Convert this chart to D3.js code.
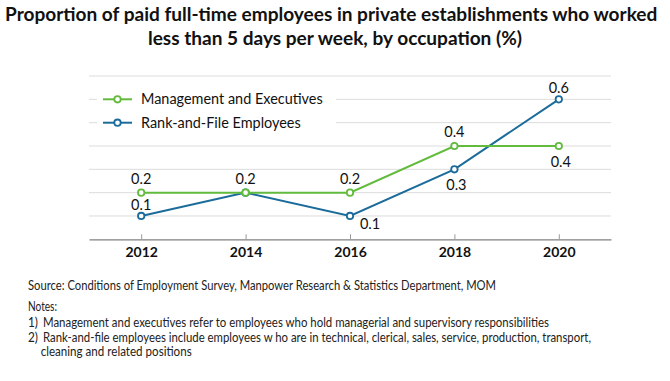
<!DOCTYPE html>
<meta charset="utf-8">
<script src="https://d3js.org/d3.v7.min.js"></script>
<html>
<head>
<style>
body { margin: 0; background: #fff; }
svg { display: block; font-family: Lato, "Open Sans", sans-serif; }
</style>
</head>
<body>
<svg id="chart" width="670" height="381"></svg>

<script>
// data
var years = ["2012", "2014", "2016", "2018", "2020"];
var mgmtValues = [0.2, 0.2, 0.2, 0.4, 0.4];
var rankFileValues = [0.1, 0.2, 0.1, 0.3, 0.6];
var seriesNames = ["Management and Executives", "Rank-and-File Employees"];
var yTicks = [0, 0.1, 0.2, 0.3, 0.4, 0.5, 0.6, 0.7];

var titleLines = [
  "Proportion of paid full-time employees in private establishments who worked",
  "less than 5 days per week, by occupation (%)"
];
var sourceText = "Source: Conditions of Employment Survey, Manpower Research & Statistics Department, MOM";
var notesTitle = "Notes:";
var notes = [
  ["1)", "Management and executives refer to employees who hold managerial and supervisory responsibilities"],
  ["2)", "Rank-and-file employees include employees w ho are in technical, clerical, sales, service, production, transport,"],
  ["", "cleaning and related positions"]
];

// where each value label sits relative to its point ("none" = hidden)
var mgmtLabelPos = ["above", "above", "above", "above", "below"];
var rfLabelPos = ["aboveNear", "none", "belowRight", "below", "aboveNear"];
var labelOffsets = {
  above: [0, -14], aboveNear: [0, -11], below: [2, 15.5], belowRight: [20, 8]
};

var green = "#62bb3c", blue = "#1b6b9b";

var svg = d3.select("#chart");

// scale font size so the text fills the target width
function fitWidth(sel, target) {
  var w = sel.node().getComputedTextLength();
  var fs = parseFloat(sel.attr("font-size"));
  sel.attr("font-size", fs * target / w);
  return fs * target / w;
}

// Title
var t1 = svg.append("text")
  .attr("x", 5).attr("y", 21)
  .attr("font-size", 19).attr("font-weight", "bold").attr("fill", "#111")
  .text(titleLines[0]);
var titleSize = fitWidth(t1, 653);
svg.append("text")
  .attr("x", 335).attr("y", 45).attr("text-anchor", "middle")
  .attr("font-size", titleSize).attr("font-weight", "bold").attr("fill", "#111")
  .text(titleLines[1]);

// scales
var x = d3.scalePoint().domain(years).range([89, 611]).padding(0.5);
var y = d3.scaleLinear().domain([0, 0.7]).range([239.3, 76]);

// gridlines
svg.append("g")
  .selectAll("line")
  .data(yTicks.slice(1))
  .enter()
  .append("line")
    .attr("x1", 89).attr("x2", 611)
    .attr("y1", function(d){ return y(d) })
    .attr("y2", function(d){ return y(d) })
    .attr("stroke", "#dcdcdc").attr("stroke-width", 1);

// legend background hides the gridlines behind it
svg.append("rect")
  .attr("x", 97).attr("y", 86).attr("width", 239).attr("height", 47)
  .attr("fill", "#fff");

// x axis
var xAxis = svg.append("g")
  .attr("transform", "translate(0," + y(0) + ")")
  .call(d3.axisBottom(x).tickSize(-5).tickSizeOuter(0).tickPadding(13));
xAxis.select(".domain").attr("stroke", "#808080").attr("stroke-width", 1.3);
xAxis.selectAll(".tick line").attr("stroke", "#999");
xAxis.selectAll(".tick text")
  .attr("font-family", "Lato, sans-serif")
  .attr("font-size", 14).attr("font-weight", "bold").attr("fill", "#111")
  .attr("y", 18).attr("dy", "0");

var line = d3.line()
  .x(function(d, i){ return x(years[i]) })
  .y(function(d){ return y(d) });

var series = [
  {name: seriesNames[1], values: rankFileValues, color: blue, pos: rfLabelPos},
  {name: seriesNames[0], values: mgmtValues, color: green, pos: mgmtLabelPos}
];

series.forEach(function(s) {
  svg.append("path")
    .datum(s.values)
    .attr("d", line)
    .attr("fill", "none")
    .attr("stroke", s.color)
    .attr("stroke-width", 2);

  svg.append("g")
    .selectAll("circle")
    .data(s.values)
    .enter()
    .append("circle")
      .attr("cx", function(d, i){ return x(years[i]) })
      .attr("cy", function(d){ return y(d) })
      .attr("r", 3.2)
      .attr("fill", "#fff")
      .attr("stroke", s.color)
      .attr("stroke-width", 1.8);
});

// value labels
series.forEach(function(s) {
  s.values.forEach(function(v, i) {
    if (s.pos[i] == "none") return;
    var off = labelOffsets[s.pos[i]];
    svg.append("text")
      .attr("x", x(years[i]) + off[0])
      .attr("y", y(v) + off[1])
      .attr("dy", "0.35em")
      .attr("text-anchor", "middle")
      .attr("font-size", 14.5).attr("fill", "#111")
      .text(v.toFixed(1));
  });
});

// legend
var legendRows = [
  {name: seriesNames[0], color: green, y: 99.3},
  {name: seriesNames[1], color: blue, y: 122.7}
];
var legendSize = null;
legendRows.forEach(function(r) {
  svg.append("line")
    .attr("x1", 103).attr("x2", 132).attr("y1", r.y).attr("y2", r.y)
    .attr("stroke", r.color).attr("stroke-width", 2);
  svg.append("circle")
    .attr("cx", 117.5).attr("cy", r.y).attr("r", 3.2)
    .attr("fill", "#fff").attr("stroke", r.color).attr("stroke-width", 1.8);
  var t = svg.append("text")
    .attr("x", 141).attr("y", r.y).attr("dy", "0.35em")
    .attr("font-size", legendSize || 15).attr("fill", "#111")
    .text(r.name);
  if (!legendSize) legendSize = fitWidth(t, 182);
});

// footnotes, squeezed to the widths measured on the reference
var noteSize = 12.5;
function note(x0, y0, str, width) {
  var t = svg.append("text")
    .attr("x", x0).attr("y", y0)
    .attr("font-size", noteSize).attr("fill", "#222")
    .text(str);
  if (width) t.attr("textLength", width).attr("lengthAdjust", "spacingAndGlyphs");
}
note(28, 289.5, sourceText, 468);
note(28, 311, notesTitle, 29);

var noteY = [326.5, 341.5, 356];
var noteWidths = [506, 548, 151];
notes.forEach(function(n, i) {
  if (n[0]) note(28, noteY[i], n[0], 10);
  note(i == 2 ? 40.7 : 43, noteY[i], n[1], noteWidths[i]);
});
</script>
</body>
</html>
